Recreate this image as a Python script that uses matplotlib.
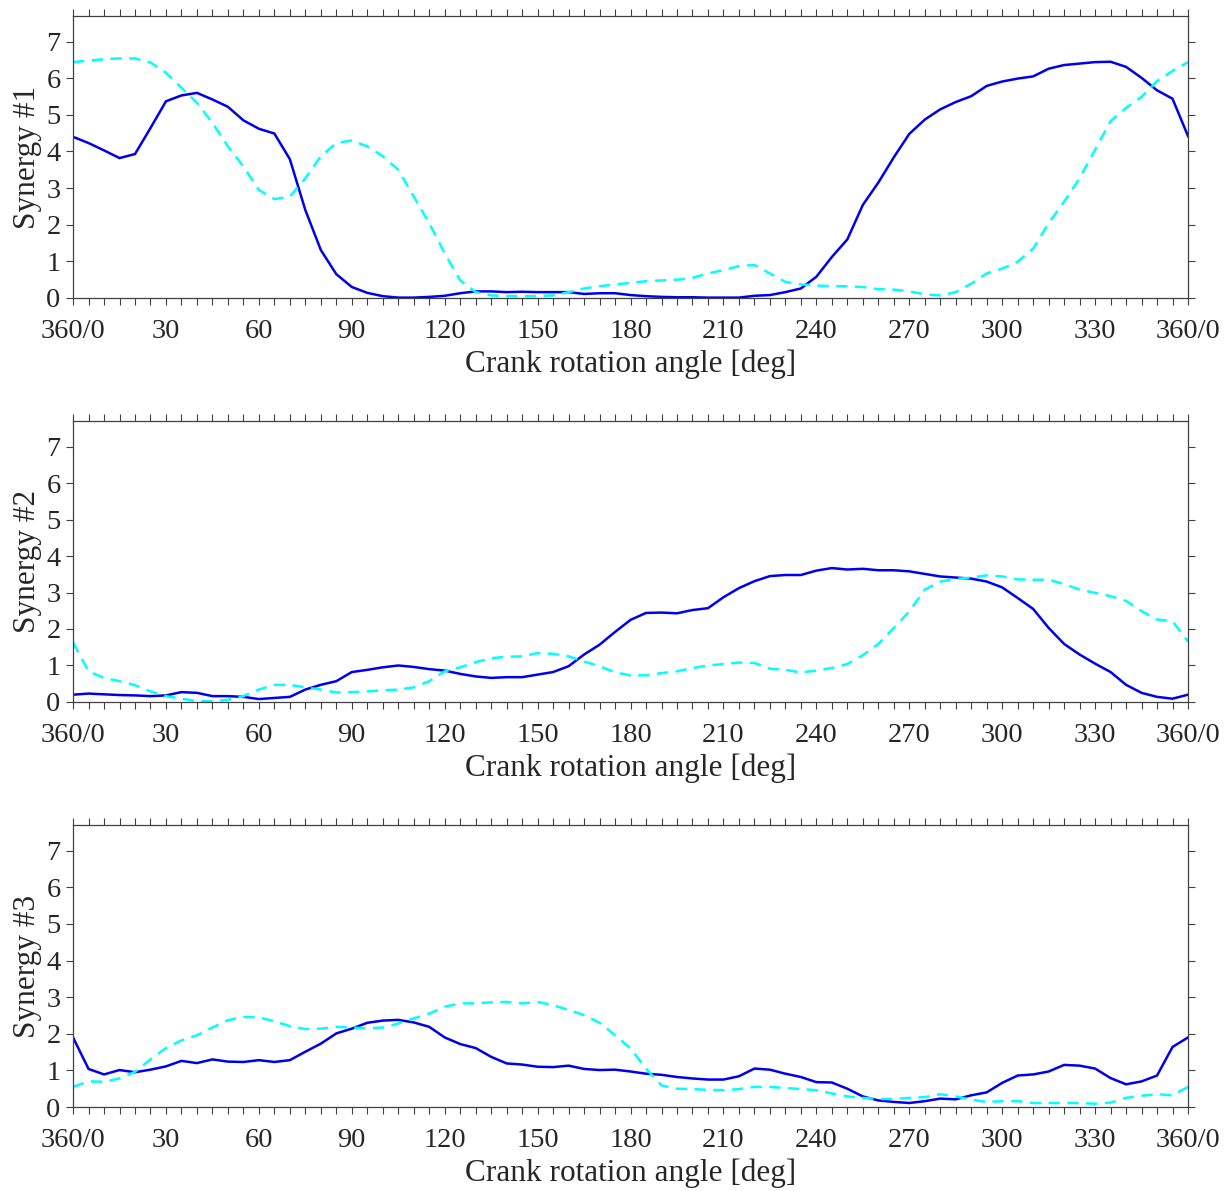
import numpy as np
import matplotlib
matplotlib.use("Agg")
import matplotlib.pyplot as plt
from matplotlib.ticker import MultipleLocator

angles = list(range(0, 361, 5))

syn1_solid = [4.40, 4.23, 4.03, 3.82, 3.93, 4.64, 5.37, 5.53, 5.60, 5.42,
              5.22, 4.85, 4.62, 4.49, 3.79, 2.40, 1.31, 0.65, 0.30, 0.14,
              0.05, 0.01, 0.01, 0.03, 0.06, 0.13, 0.18, 0.18, 0.16, 0.17,
              0.16, 0.16, 0.16, 0.11, 0.13, 0.13, 0.08, 0.05, 0.03, 0.02,
              0.02, 0.01, 0.01, 0.01, 0.06, 0.08, 0.16, 0.26, 0.58, 1.12,
              1.60, 2.54, 3.15, 3.84, 4.48, 4.87, 5.15, 5.35, 5.51, 5.79,
              5.91, 5.99, 6.05, 6.26, 6.36, 6.40, 6.44, 6.45, 6.31, 6.01,
              5.67, 5.44, 4.42]
syn1_dash = [6.44, 6.48, 6.52, 6.54, 6.54, 6.43, 6.15, 5.74, 5.33, 4.78,
             4.14, 3.59, 2.95, 2.70, 2.77, 3.27, 3.87, 4.23, 4.30, 4.14,
             3.87, 3.50, 2.77, 2.04, 1.22, 0.48, 0.16, 0.07, 0.05, 0.05,
             0.05, 0.07, 0.16, 0.26, 0.32, 0.37, 0.41, 0.46, 0.48, 0.50,
             0.55, 0.67, 0.76, 0.87, 0.90, 0.67, 0.44, 0.37, 0.34, 0.32,
             0.32, 0.30, 0.24, 0.23, 0.18, 0.10, 0.07, 0.16, 0.39, 0.67,
             0.80, 0.99, 1.35, 2.04, 2.63, 3.27, 4.05, 4.83, 5.19, 5.49,
             5.92, 6.20, 6.44]

syn2_solid = [0.20, 0.23, 0.21, 0.19, 0.18, 0.16, 0.18, 0.27, 0.25, 0.16,
              0.16, 0.14, 0.08, 0.11, 0.14, 0.34, 0.47, 0.57, 0.82, 0.88,
              0.95, 1.00, 0.96, 0.90, 0.86, 0.77, 0.70, 0.66, 0.68, 0.68,
              0.75, 0.82, 0.98, 1.30, 1.57, 1.92, 2.25, 2.44, 2.45, 2.43,
              2.52, 2.57, 2.87, 3.12, 3.31, 3.45, 3.48, 3.48, 3.60, 3.67,
              3.63, 3.65, 3.61, 3.61, 3.58, 3.51, 3.44, 3.41, 3.38, 3.30,
              3.14, 2.85, 2.55, 2.03, 1.59, 1.30, 1.05, 0.82, 0.47, 0.25,
              0.14, 0.09, 0.20]
syn2_dash = [1.63, 0.84, 0.66, 0.57, 0.46, 0.29, 0.16, 0.09, 0.02, 0.02,
             0.06, 0.16, 0.34, 0.47, 0.47, 0.40, 0.34, 0.26, 0.27, 0.29,
             0.32, 0.34, 0.40, 0.57, 0.84, 0.95, 1.09, 1.20, 1.24, 1.25,
             1.34, 1.32, 1.25, 1.11, 0.98, 0.81, 0.73, 0.73, 0.79, 0.84,
             0.93, 1.00, 1.04, 1.08, 1.07, 0.91, 0.88, 0.81, 0.86, 0.93,
             1.04, 1.28, 1.59, 2.03, 2.48, 3.08, 3.30, 3.37, 3.41, 3.47,
             3.44, 3.36, 3.35, 3.35, 3.23, 3.08, 2.99, 2.90, 2.77, 2.49,
             2.26, 2.21, 1.66]

syn3_solid = [1.90, 1.04, 0.89, 1.01, 0.95, 1.02, 1.11, 1.26, 1.20, 1.30,
              1.24, 1.23, 1.28, 1.23, 1.28, 1.51, 1.73, 2.01, 2.14, 2.30,
              2.36, 2.38, 2.31, 2.19, 1.90, 1.72, 1.61, 1.37, 1.19, 1.16,
              1.10, 1.09, 1.13, 1.04, 1.01, 1.02, 0.97, 0.91, 0.88, 0.82,
              0.78, 0.75, 0.75, 0.84, 1.05, 1.02, 0.91, 0.82, 0.68, 0.67,
              0.50, 0.29, 0.18, 0.14, 0.11, 0.16, 0.23, 0.21, 0.32, 0.40,
              0.66, 0.86, 0.89, 0.97, 1.15, 1.13, 1.05, 0.79, 0.62, 0.70,
              0.86, 1.64, 1.90]
syn3_dash = [0.55, 0.70, 0.69, 0.78, 0.96, 1.30, 1.61, 1.82, 1.96, 2.17,
             2.37, 2.46, 2.45, 2.34, 2.21, 2.13, 2.14, 2.19, 2.17, 2.15,
             2.17, 2.28, 2.42, 2.55, 2.74, 2.83, 2.83, 2.86, 2.87, 2.83,
             2.87, 2.78, 2.65, 2.51, 2.30, 1.96, 1.60, 1.05, 0.59, 0.50,
             0.49, 0.47, 0.46, 0.49, 0.55, 0.55, 0.52, 0.49, 0.46, 0.37,
             0.29, 0.25, 0.22, 0.22, 0.25, 0.27, 0.35, 0.29, 0.20, 0.14,
             0.16, 0.16, 0.11, 0.11, 0.11, 0.11, 0.09, 0.12, 0.25, 0.31,
             0.35, 0.32, 0.55]

xtick_pos = list(range(0, 361, 30))
xtick_labels = ["360/0", "30", "60", "90", "120", "150", "180", "210",
                "240", "270", "300", "330", "360/0"]
ylabels = ["Synergy #1", "Synergy #2", "Synergy #3"]
xlabel = "Crank rotation angle [deg]"

plt.rcParams['font.family'] = ['Liberation Serif', 'DejaVu Serif']
plt.rcParams['font.size'] = 20

fig = plt.figure(figsize=(12.32, 11.91), dpi=100)
L, R = 0.0593, 0.9643
bottoms = [0.7498, 0.4106, 0.0705]
tops = [0.9866, 0.6465, 0.3073]
series = [(syn1_solid, syn1_dash), (syn2_solid, syn2_dash), (syn3_solid, syn3_dash)]

textc = '#262626'
for i in range(3):
    ax = fig.add_axes([L, bottoms[i], R - L, tops[i] - bottoms[i]])
    s, d = series[i]
    ax.plot(angles, s, color='#0000ee', lw=1.8, solid_joinstyle='miter')
    ax.plot(angles, d, color='#00ffff', lw=1.8, ls=(0, (4.5, 3)))
    ax.set_xlim(0, 360)
    ax.set_ylim(0, 7.7)
    ax.set_xticks(xtick_pos)
    ax.set_xticklabels(xtick_labels)
    ax.xaxis.set_minor_locator(MultipleLocator(5))
    ax.set_yticks(range(0, 8))
    ax.tick_params(axis='both', which='both', direction='out', length=5,
                   width=0.8, colors='#404040', labelcolor=textc, labelsize=20.5)
    ax.tick_params(axis='x', which='both', top=True, pad=10)
    ax.tick_params(axis='y', which='both', right=True, pad=4)
    for sp in ax.spines.values():
        sp.set_color('#404040')
        sp.set_linewidth(0.9)
    ax.set_xlabel(xlabel, color=textc, fontsize=22.5, labelpad=4)
    ax.set_ylabel(ylabels[i], color=textc, fontsize=22.5, labelpad=3)

fig.savefig("out.png", dpi=100)
